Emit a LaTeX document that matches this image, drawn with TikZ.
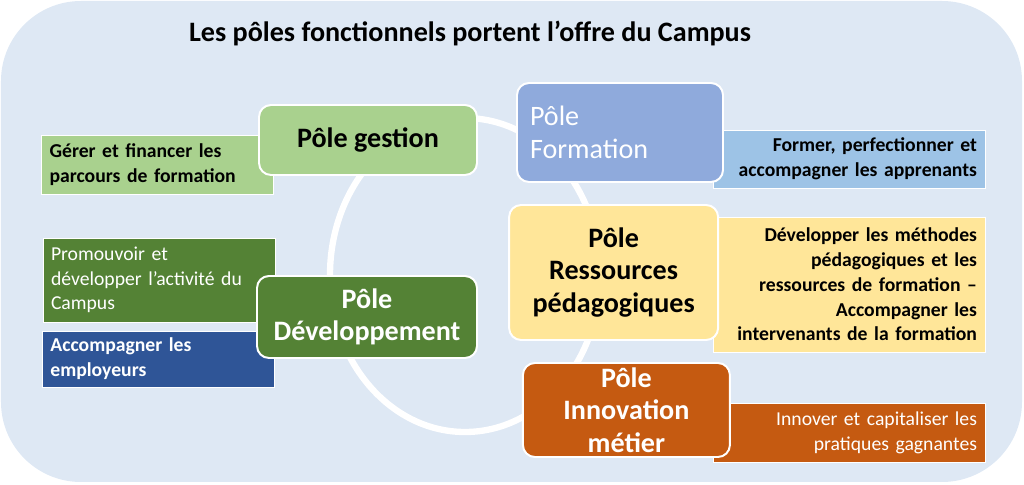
\documentclass[tikz,border=0pt]{standalone}
\usepackage{fontspec}
\setmainfont{Carlito}
\usetikzlibrary{positioning}

\definecolor{bgblue}{HTML}{DEE8F4}
\definecolor{lgreen}{HTML}{A9D18E}
\definecolor{dgreen}{HTML}{548235}
\definecolor{dblue}{HTML}{2F5597}
\definecolor{pblue}{HTML}{8FAADC}
\definecolor{lblue}{HTML}{9DC3E6}
\definecolor{pyellow}{HTML}{FFE699}
\definecolor{porange}{HTML}{C55A11}

\begin{document}
\begin{tikzpicture}[
  pole/.style={draw=white, line width=1.4pt, rounded corners=0.3cm,
               align=center, inner sep=2pt,
               font=\fontsize{20}{23}\selectfont\bfseries},
  mission/.style={draw=white, line width=0.4pt, inner xsep=0.2cm,
                  inner ysep=2pt, minimum height=#1,
                  font=\fontsize{14}{17.6}\selectfont},
  lmission/.style={mission=#1, text width=5.4cm, align=left},
  rmission/.style={mission=#1, text width=6.4cm, align=right},
]

% Background panel
\useasboundingbox (0,0) rectangle (25.6,12.125);
\fill[bgblue, rounded corners=2cm] (0.025,0.075) rectangle (25.55,12.1);

% Title
\node[font=\fontsize{20}{24}\selectfont\bfseries] (title) at (11.75,11.3)
  {Les pôles fonctionnels portent l’offre du Campus};

% Cycle ring
\draw[white, line width=4.5pt] (11.625,5.25) ellipse [x radius=3.375, y radius=3.925];

% Mission boxes (behind the poles)
\node[lmission=1.475cm, fill=lgreen, font=\fontsize{14}{17.6}\selectfont\bfseries] (gerer) at (3.94,8.01)
  {Gérer et financer les\\ parcours de formation};
\node[lmission=2.1cm, fill=dgreen, text=white] (promo) at (3.975,5.125)
  {Promouvoir et\\ développer l’activité du\\ Campus};
\node[lmission=1.4cm, fill=dblue, text=white, font=\fontsize{14}{17.6}\selectfont\bfseries] (employ) at (3.96,3.15)
  {Accompagner les\\ employeurs};
\node[rmission=1.45cm, fill=lblue, font=\fontsize{14}{17.6}\selectfont\bfseries] (former) at (21.225,8.15)
  {Former, perfectionner et\\ accompagner les apprenants};
\node[rmission=3.375cm, fill=pyellow, font=\fontsize{14}{17.6}\selectfont\bfseries] (methodes) at (21.225,5.0125)
  {Développer les méthodes\\ pédagogiques et les\\ ressources de formation --\\ Accompagner les\\ intervenants de la formation};
\node[rmission=1.475cm, fill=porange, text=white] (innover) at (21.225,1.3125)
  {Innover et capitaliser les\\ pratiques gagnantes};

% Poles
\node[pole, fill=lgreen, minimum width=5.45cm, minimum height=1.75cm] (gestion) at (9.2,8.625)
  {Pôle gestion};
\node[pole, fill=dgreen, text=white, minimum width=5.5cm, minimum height=2.05cm] (dev) at (9.175,4.2)
  {Pôle\\ Développement};
\node[pole, fill=pblue, text=white, minimum width=5.15cm, minimum height=2.475cm,
      text width=4.5cm, align=left, font=\fontsize{20}{23}\selectfont] (form) at (15.5,8.8125)
  {Pôle\\ Formation};
\node[pole, fill=pyellow, minimum width=5.225cm, minimum height=3.375cm] (ress) at (15.34,5.3125)
  {Pôle\\ Ressources\\ pédagogiques};
\node[pole, fill=porange, text=white, minimum width=5.175cm, minimum height=2.35cm] (innov) at (15.66,1.875)
  {Pôle\\ Innovation\\ métier};

\end{tikzpicture}
\end{document}
